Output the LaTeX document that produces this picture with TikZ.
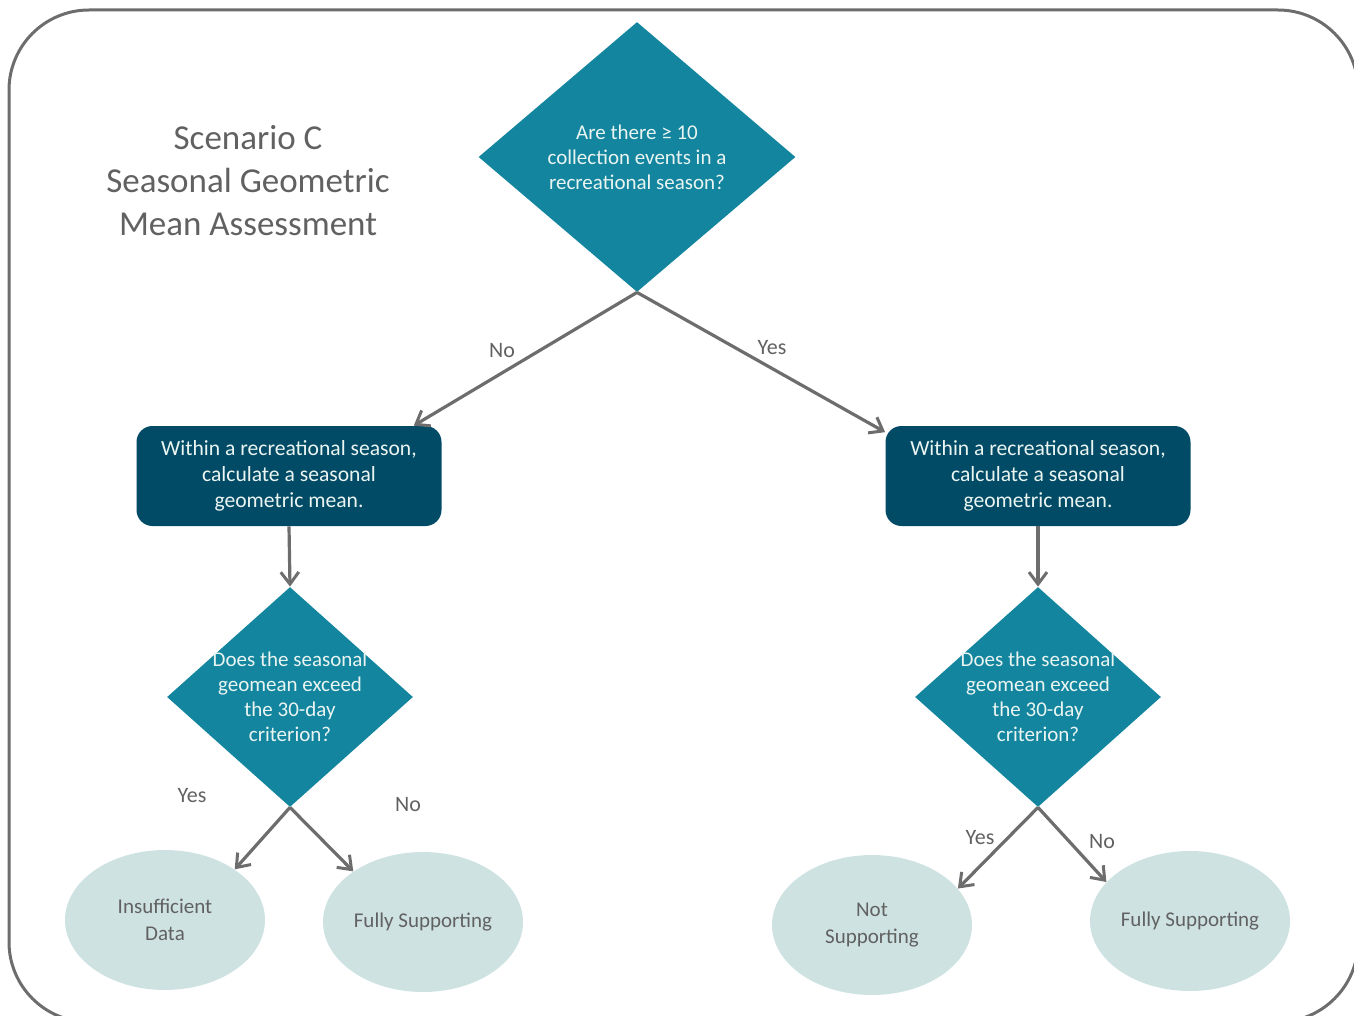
\documentclass[tikz,border=0pt]{standalone}
\usepackage{fontspec}
\setmainfont{Carlito}
\usetikzlibrary{shapes.geometric, arrows.meta, positioning}
\definecolor{decteal}{HTML}{13859F}
\definecolor{calcblue}{HTML}{024B66}
\definecolor{leafgrey}{HTML}{CFE2E2}
\definecolor{linegrey}{HTML}{6D6D6D}
\definecolor{textgrey}{HTML}{616161}
\definecolor{paletext}{HTML}{EAF5F2}
\begin{document}
\begin{tikzpicture}[x=0.5pt, y=-0.5pt]
    \tikzstyle{decision}=[diamond, fill=decteal, inner sep=0pt, label={[text=paletext, align=center, font=\fontsize{10.5}{12.5}\selectfont]center:#1}]
    \tikzstyle{calc}=[rectangle, rounded corners=8pt, fill=calcblue, text=paletext, minimum width=152.5pt, minimum height=50pt, align=center, font=\fontsize{10.8}{13}\selectfont]
    \tikzstyle{leaf}=[ellipse, fill=leafgrey, text=textgrey, inner sep=0pt, minimum width=100pt, minimum height=70pt, align=center, font=\fontsize{10.5}{13.5}\selectfont]
    \tikzstyle{answer}=[text=textgrey, font=\fontsize{11}{13}\selectfont]
    \tikzstyle{flow}=[-{Straight Barb[length=6pt, width=9pt, line width=1.5pt]}, draw=linegrey, line width=1.6pt]

    \useasboundingbox (0,0) rectangle (1354,1016);
    % outer frame
    \draw [linegrey, line width=1.5pt, rounded corners=40pt] (9,10) rectangle (1358,1022);

    \node (title) [text=textgrey, align=center, font=\fontsize{17.5}{21.5}\selectfont] at (248,181) {Scenario C\\Seasonal Geometric\\Mean Assessment};

    \node (events) [decision={Are there ≥ 10\\collection events in a\\recreational season?}, minimum width=158.5pt, minimum height=135pt] at (637,157) {};

    \node (calc-left) [calc] at (289,476) {Within a recreational season,\\calculate a seasonal\\geometric mean.};
    \node (calc-right) [calc] at (1038,476) {Within a recreational season,\\calculate a seasonal\\geometric mean.};

    \node (exceed-left) [decision={Does the seasonal\\geomean exceed\\the 30-day\\criterion?}, minimum width=123pt, minimum height=110pt] at (290,697) {};
    \node (exceed-right) [decision={Does the seasonal\\geomean exceed\\the 30-day\\criterion?}, minimum width=123pt, minimum height=110pt] at (1038,697) {};

    \node (insufficient) [leaf] at (165,920) {Insufficient\\Data};
    \node (full-left) [leaf] at (423,922) {Fully Supporting};
    \node (not-supp) [leaf] at (872,925) {Not\\Supporting};
    \node (full-right) [leaf] at (1190,921) {Fully Supporting};

    \draw [flow] (events.south) -- (calc-left.22);
    \draw [flow] (events.south) -- (calc-right.164);
    \draw [flow] (calc-left.south) -- (exceed-left.north);
    \draw [flow] (calc-right.south) -- (exceed-right.north);
    \draw [flow] (exceed-left.south) -- (insufficient.36);
    \draw [flow] (exceed-left.south) -- (full-left.144);
    \draw [flow] (exceed-right.south) -- (not-supp.23);
    \draw [flow] (exceed-right.south) -- (full-right.155);

    \node (no-top) [answer] at (502,351) {No};
    \node (yes-top) [answer] at (772,348) {Yes};
    \node (yes-left) [answer] at (192,796) {Yes};
    \node (no-left) [answer] at (408,805) {No};
    \node (yes-right) [answer] at (980,838) {Yes};
    \node (no-right) [answer] at (1102,842) {No};
\end{tikzpicture}
\end{document}
